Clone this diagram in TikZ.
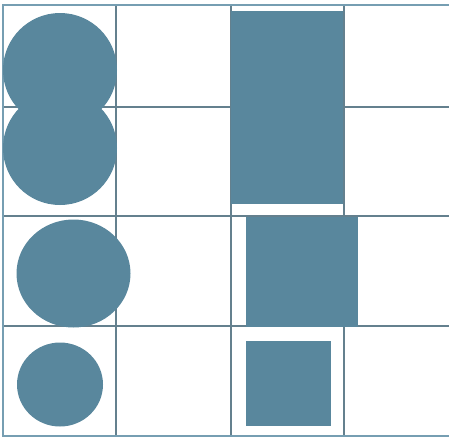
\documentclass[tikz,border=0pt]{standalone}
\usepackage{tikz}
\usetikzlibrary{shapes, positioning}
\definecolor{shapeblue}{RGB}{89,135,157}
\definecolor{gridgray}{RGB}{100,128,142}
\definecolor{framelight}{RGB}{118,158,178}

\begin{document}
\begin{tikzpicture}[x=1pt, y=-1pt]
    \tikzstyle{gridline} = [draw=gridgray, line width=1.1pt]
    \tikzstyle{frameline} = [draw=framelight, line width=2pt]
    \tikzstyle{blob} = [fill=shapeblue, draw=none]

    \useasboundingbox (0,0) rectangle (449,437);

    % grid
    \foreach \gx in {116, 231, 344}
        \draw [gridline] (\gx,4.5) -- (\gx,436);
    \foreach \gy in {107, 216, 326}
        \draw [gridline] (3,\gy) -- (449,\gy);
    \draw [frameline] (449,4.5) -- (3,4.5) -- (3,436) -- (449,436);

    % round shapes
    \fill [blob] (60,70) circle (57);
    \fill [blob] (60,148) circle (57);
    \fill [blob] (73.5,273.5) ellipse (57 and 54);
    \fill [blob] (60,384.5) ellipse (43 and 42);

    % square shapes
    \fill [blob] (231,11) rectangle (343,204);
    \fill [blob] (246,217) rectangle (358,327);
    \fill [blob] (246,341) rectangle (331,426);
\end{tikzpicture}
\end{document}
